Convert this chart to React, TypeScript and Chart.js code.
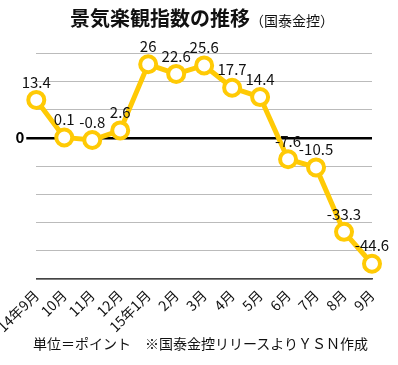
import React, { useEffect, useRef } from "react";
import { Chart, registerables } from "chart.js";

Chart.register(...registerables);

const categories = ["14年9月", "10月", "11月", "12月", "15年1月", "2月", "3月", "4月", "5月", "6月", "7月", "8月", "9月"];
const values = [13.4, 0.1, -0.8, 2.6, 26, 22.6, 25.6, 17.7, 14.4, -7.6, -10.5, -33.3, -44.6];
const valueLabels = ["13.4", "0.1", "-0.8", "2.6", "26", "22.6", "25.6", "17.7", "14.4", "-7.6", "-10.5", "-33.3", "-44.6"];

const FONT = "'Noto Sans CJK JP', 'Noto Sans', sans-serif";
const YELLOW = "#FFCA05";

const labelPlugin = {
  id: "valueLabels",
  afterDatasetsDraw(chart: any) {
    const ctx = chart.ctx;
    const meta = chart.getDatasetMeta(0);
    ctx.save();
    ctx.font = `15px ${FONT}`;
    ctx.fillStyle = "#111";
    ctx.textAlign = "center";
    ctx.textBaseline = "middle";
    meta.data.forEach((pt: any, i: number) => {
      ctx.fillText(valueLabels[i], pt.x, pt.y - 18);
    });
    ctx.restore();
  },
};

export default function App() {
  const ref = useRef<HTMLCanvasElement>(null);
  useEffect(() => {
    const chart = new Chart(ref.current!, {
      type: "line",
      data: {
        labels: categories,
        datasets: [
          {
            data: values,
            borderColor: YELLOW,
            borderWidth: 5,
            pointRadius: 8,
            pointBorderWidth: 4,
            pointBackgroundColor: "#fff",
            pointBorderColor: YELLOW,
            tension: 0,
          },
        ],
      },
      options: {
        responsive: false,
        animation: false,
        layout: { padding: { top: 53, right: 26, left: 0, bottom: 0 } },
        plugins: { legend: { display: false }, tooltip: { enabled: false } },
        scales: {
          x: {
            offset: false,
            grid: { display: false },
            border: { display: true, color: "#444", width: 1.5 },
            ticks: {
              minRotation: 45,
              maxRotation: 45,
              autoSkip: false,
              color: "#111",
              font: { size: 14, family: FONT },
              padding: 0,
            },
            afterFit: (s: any) => {
              s.height = 86;
            },
          },
          y: {
            min: -50,
            max: 30,
            border: { display: false },
            grid: {
              color: (c: any) => (c.tick && c.tick.value === 0 ? "#000" : "#bbb"),
              lineWidth: (c: any) => (c.tick && c.tick.value === 0 ? 2.5 : 1),
              tickColor: (c: any) => (c.tick && c.tick.value === 0 ? "#000" : "rgba(0,0,0,0)"),
              tickLength: 10,
            },
            ticks: {
              stepSize: 10,
              color: "#000",
              font: { size: 15, family: FONT, weight: "bold" },
              padding: 2,
              callback: (v: any) => (v === 0 ? "0" : ""),
            },
            afterFit: (s: any) => {
              s.width = 33;
            },
          },
        },
      },
      plugins: [labelPlugin],
    });
    return () => chart.destroy();
  }, []);

  return (
    <div style={{ position: "fixed", left: 0, top: 0, width: 398, height: 365, background: "#fff", fontFamily: FONT }}>
      <div style={{ position: "absolute", left: 0, top: 3, width: 404, textAlign: "center", whiteSpace: "nowrap", color: "#111" }}>
        <span style={{ fontSize: 20, fontWeight: "bold" }}>景気楽観指数の推移</span>
        <span style={{ fontSize: 14 }}>（国泰金控）</span>
      </div>
      <canvas ref={ref} width={398} height={365} style={{ display: "block" }} />
      <div style={{ position: "absolute", left: 33, top: 333, fontSize: 14, whiteSpace: "nowrap", color: "#111" }}>
        単位＝ポイント　※国泰金控リリースよりＹＳＮ作成
      </div>
    </div>
  );
}
